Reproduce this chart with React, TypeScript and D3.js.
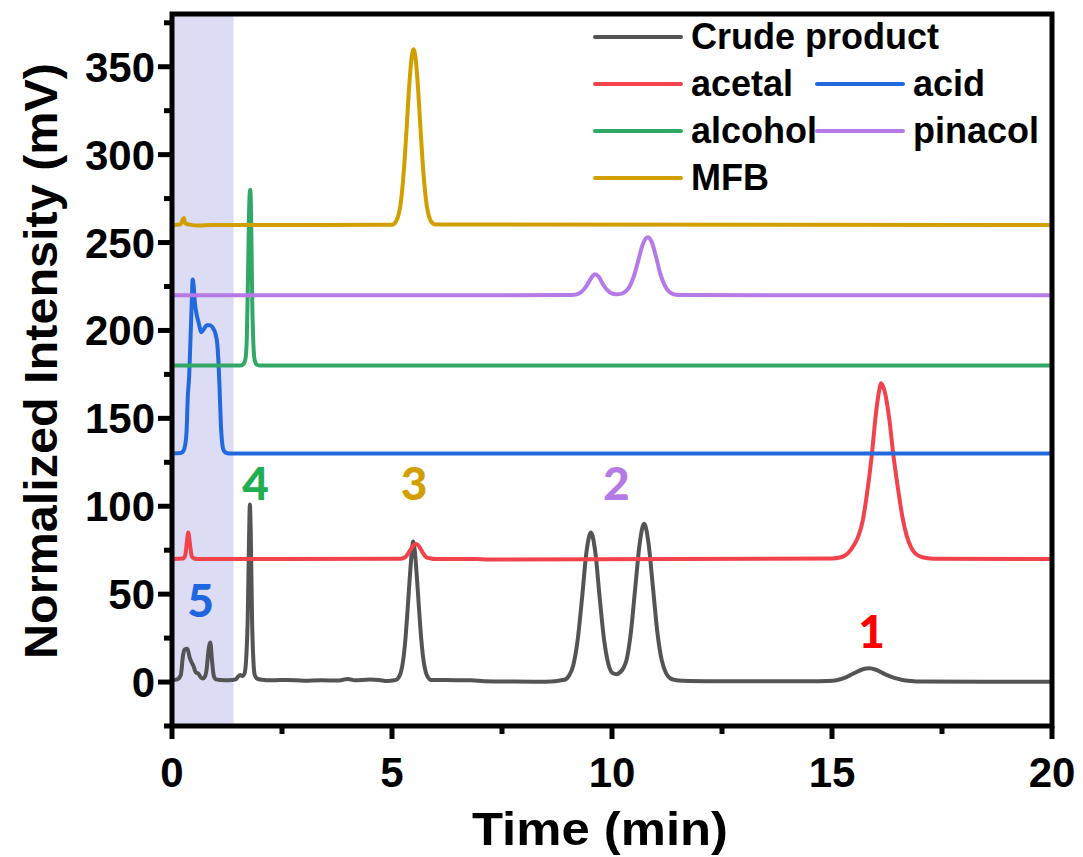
import React, { useRef, useEffect } from 'react';
import * as d3 from 'd3';

const WIDTH = 1083;
const HEIGHT = 857;
const margin = { top: 14, right: 31, bottom: 131, left: 172 };

// retention time (min), intensity (mV)
const crudeProduct: [number, number][] = [
	[0, 1], [0.12, 1.5], [0.2, 4], [0.25, 15], [0.29, 18.5], [0.35, 19], [0.4, 14], [0.45, 11],
	[0.49, 9], [0.54, 5.5], [0.6, 4.8], [0.66, 2.5], [0.72, 2], [0.78, 6], [0.83, 18], [0.87, 22.5],
	[0.91, 12], [0.95, 3.5], [1.0, 1.5], [1.1, 1.2], [1.3, 1], [1.45, 1.5], [1.5, 3], [1.55, 4],
	[1.6, 3.5], [1.65, 5], [1.69, 15], [1.72, 35], [1.75, 80], [1.77, 101], [1.79, 85], [1.82, 35],
	[1.85, 12], [1.88, 4], [1.93, 2], [2.0, 1.5], [2.3, 1.0], [2.6, 1.2], [3.0, 0.8], [3.4, 1.0],
	[3.8, 0.9], [4.0, 1.8], [4.15, 1.0], [4.5, 1.4], [4.7, 1.2], [4.9, 0.6], [5.05, 1.0], [5.1, 1.3],
	[5.15, 2.6], [5.2, 5.4], [5.25, 11.7], [5.3, 23], [5.35, 39.5], [5.4, 58], [5.45, 74], [5.48, 80],
	[5.52, 74], [5.57, 58], [5.62, 39.5], [5.67, 23], [5.72, 11.7], [5.77, 5.4], [5.82, 2.6], [5.88, 1.2],
	[6.2, 1.1], [6.8, 1.0], [7.1, 0.5], [7.8, 0.3], [8.5, 0.2], [8.92, 1.3], [9.02, 3.5], [9.12, 9.5],
	[9.22, 24], [9.32, 48], [9.42, 74], [9.52, 85], [9.62, 74], [9.72, 48], [9.82, 24], [9.92, 10],
	[10.02, 5], [10.1, 4.5], [10.18, 5.5], [10.26, 8], [10.33, 12.5], [10.43, 28.5], [10.53, 54],
	[10.63, 79], [10.73, 90], [10.83, 79], [10.93, 54], [11.03, 28.5], [11.13, 12.5], [11.23, 5],
	[11.33, 2], [11.43, 1.2], [11.6, 0.8], [12.5, 0.5], [13.5, 0.4], [14.5, 0.4], [14.9, 0.6],
	[15.1, 1], [15.3, 2.5], [15.5, 5], [15.7, 7.3], [15.85, 7.8], [16.0, 7], [16.2, 4.5], [16.4, 2.5],
	[16.6, 1.2], [16.8, 0.6], [17.0, 0.3], [18.5, 0.2], [20, 0.2],
];

const acetal: [number, number][] = [
	[0, 70], [0.25, 70.3], [0.3, 72], [0.34, 80], [0.37, 85], [0.41, 78], [0.45, 71.5], [0.5, 70.3],
	[0.6, 70], [5.2, 70.2], [5.3, 71], [5.4, 74.5], [5.5, 78], [5.55, 78.5], [5.62, 77], [5.7, 73.5],
	[5.78, 71], [5.88, 70.3], [6.0, 70], [6.9, 70], [7.2, 69.7], [15.0, 70.3], [15.2, 71], [15.35, 73],
	[15.5, 78], [15.6, 83], [15.7, 92], [15.8, 108], [15.9, 128], [16.0, 153], [16.06, 164], [16.12, 170],
	[16.2, 165], [16.3, 150], [16.4, 128], [16.5, 110], [16.6, 94], [16.7, 83], [16.8, 76.5], [16.9, 73],
	[17.05, 71], [17.3, 70.2], [20, 70],
];

const acid: [number, number][] = [
	[0, 130], [0.2, 130.3], [0.26, 131.5], [0.3, 135], [0.33, 142], [0.36, 163], [0.39, 174],
	[0.42, 195], [0.45, 217], [0.47, 229], [0.49, 226], [0.52, 216], [0.56, 209], [0.6, 205],
	[0.67, 199], [0.73, 201], [0.79, 203], [0.86, 203], [0.94, 201], [0.99, 198], [1.03, 192],
	[1.06, 180], [1.08, 168], [1.11, 147], [1.14, 136], [1.17, 132], [1.22, 130.5], [1.3, 130], [20, 130],
];

const alcohol: [number, number][] = [
	[0, 180], [1.55, 180], [1.62, 180.8], [1.67, 184], [1.7, 195], [1.73, 235], [1.76, 275],
	[1.78, 280], [1.8, 262], [1.82, 222], [1.85, 192], [1.88, 183], [1.93, 180.5], [2.0, 180], [20, 180],
];

const pinacol: [number, number][] = [
	[0, 220], [9.1, 220.1], [9.25, 221], [9.35, 223], [9.45, 226.5], [9.53, 230], [9.61, 232],
	[9.7, 230.5], [9.8, 226], [9.9, 222.8], [10.0, 221], [10.1, 220.6], [10.2, 220.8], [10.3, 222],
	[10.4, 225], [10.5, 231], [10.6, 240], [10.7, 249], [10.81, 253], [10.9, 250.5], [11.0, 242],
	[11.1, 232], [11.2, 225.5], [11.3, 222], [11.4, 220.6], [11.5, 220.1], [20, 220],
];

const mfb: [number, number][] = [
	[0, 260], [0.2, 260.4], [0.24, 263], [0.27, 264], [0.3, 261], [0.4, 260.2], [0.6, 259.7],
	[0.9, 260], [5.0, 260.1], [5.09, 262], [5.14, 265], [5.19, 271], [5.24, 282], [5.29, 298],
	[5.34, 318], [5.39, 338.6], [5.44, 354], [5.49, 360], [5.54, 354], [5.59, 338.6], [5.64, 318],
	[5.69, 298], [5.74, 282], [5.79, 271], [5.84, 265], [5.89, 262], [5.99, 260.3], [20, 260],
];

const seriesNames = ['Crude product', 'acetal', 'acid', 'alcohol', 'pinacol', 'MFB'];
const seriesData = [crudeProduct, acetal, acid, alcohol, pinacol, mfb];
const seriesColors = ['#545454', '#f2424b', '#2169dc', '#31a866', '#b57ae6', '#d29f00'];

const xMajor = [0, 5, 10, 15, 20];
const xMinor = [2.5, 7.5, 12.5, 17.5];
const yMajor = [0, 50, 100, 150, 200, 250, 300, 350];
const yMinor = [-25, 25, 75, 125, 175, 225, 275, 325, 375];

const peakLabels = ['5', '4', '3', '2', '1'];
const peakTimes = [0.65, 1.9, 5.5, 10.1, 15.9];
const peakValues = [35, 101, 101, 101, 17];
const peakColors = ['#1f66e0', '#1fae52', '#d29f00', '#b57ae6', '#ff0000'];

const shadedRange = [0, 1.4];

const FONT = '"Liberation Sans", Arial, sans-serif';

const renderChart = (ref) => {
	const svg = d3.select(ref.current);
	svg.selectAll('*').remove();
	svg.attr('width', WIDTH).attr('height', HEIGHT);

	const x = d3.scaleLinear().domain([0, 20]).range([margin.left, WIDTH - margin.right]);
	const y = d3.scaleLinear().domain([-25, 380]).range([HEIGHT - margin.bottom, margin.top]);

	svg.append('rect')
		.attr('width', WIDTH).attr('height', HEIGHT).attr('fill', '#fff');

	// highlighted region
	svg.append('rect')
		.attr('x', x(shadedRange[0]))
		.attr('y', y(380))
		.attr('width', x(shadedRange[1]) - x(shadedRange[0]))
		.attr('height', y(-25) - y(380))
		.attr('fill', '#dcdcf5');

	const line = d3.line<[number, number]>()
		.x((d) => x(d[0]))
		.y((d) => y(d[1]))
		.curve(d3.curveMonotoneX);

	seriesData.forEach((data, i) => {
		svg.append('path')
			.datum(data)
			.attr('d', line)
			.attr('fill', 'none')
			.attr('stroke', seriesColors[i])
			.attr('stroke-width', 4)
			.attr('stroke-linejoin', 'round');
	});

	// peak numbers
	peakLabels.forEach((label, i) => {
		svg.append('text')
			.attr('x', x(peakTimes[i]))
			.attr('y', y(peakValues[i]) - 4)
			.attr('text-anchor', 'middle')
			.attr('font-family', 'Lato, "Open Sans", sans-serif')
			.attr('font-weight', 900)
			.attr('font-size', 46)
			.attr('fill', peakColors[i])
			.text(label);
	});

	// frame
	svg.append('rect')
		.attr('x', x(0)).attr('y', y(380))
		.attr('width', x(20) - x(0)).attr('height', y(-25) - y(380))
		.attr('fill', 'none').attr('stroke', '#000').attr('stroke-width', 5);

	const axisG = svg.append('g').attr('stroke', '#000').attr('stroke-width', 5);
	xMajor.forEach((t) => axisG.append('line')
		.attr('x1', x(t)).attr('x2', x(t)).attr('y1', y(-25)).attr('y2', y(-25) + 13));
	xMinor.forEach((t) => axisG.append('line')
		.attr('x1', x(t)).attr('x2', x(t)).attr('y1', y(-25)).attr('y2', y(-25) + 8));
	yMajor.forEach((t) => axisG.append('line')
		.attr('x1', x(0) - 14).attr('x2', x(0)).attr('y1', y(t)).attr('y2', y(t)));
	yMinor.forEach((t) => axisG.append('line')
		.attr('x1', x(0) - 8).attr('x2', x(0)).attr('y1', y(t)).attr('y2', y(t)));

	const textG = svg.append('g')
		.attr('font-family', FONT).attr('font-weight', 'bold').attr('fill', '#000');

	xMajor.forEach((t) => textG.append('text')
		.attr('x', x(t)).attr('y', 787)
		.attr('text-anchor', 'middle').attr('font-size', 42)
		.text(t));
	yMajor.forEach((t) => textG.append('text')
		.attr('x', 155).attr('y', y(t) + 15)
		.attr('text-anchor', 'end').attr('font-size', 42)
		.text(t));

	textG.append('text')
		.attr('x', 600).attr('y', 845)
		.attr('text-anchor', 'middle').attr('font-size', 46)
		.attr('textLength', 256).attr('lengthAdjust', 'spacingAndGlyphs')
		.text('Time (min)');
	textG.append('text')
		.attr('transform', 'translate(57,361) rotate(-90)')
		.attr('text-anchor', 'middle').attr('font-size', 46)
		.attr('textLength', 596).attr('lengthAdjust', 'spacingAndGlyphs')
		.text('Normalized Intensity (mV)');

	// legend
	const legendPos = [[595, 37], [595, 84], [817, 84], [595, 131], [817, 131], [595, 178]];
	seriesNames.forEach((name, k) => {
		const [lx, ly] = legendPos[k];
		svg.append('line')
			.attr('x1', lx).attr('x2', lx + 86).attr('y1', ly).attr('y2', ly)
			.attr('stroke', seriesColors[k]).attr('stroke-width', 4)
			.attr('stroke-linecap', 'round');
		textG.append('text')
			.attr('x', lx + 96).attr('y', ly + 12)
			.attr('font-size', 36)
			.text(name);
	});
};

const App = () => {
	const ref = useRef(null);

	useEffect(() => {
		renderChart(ref);
	}, []);

	return (
		<div>
			<svg ref={ ref } style={ { display: 'block', position: 'absolute', left: 0, top: 0 } }/>
		</div>
	);
};

export default App;
